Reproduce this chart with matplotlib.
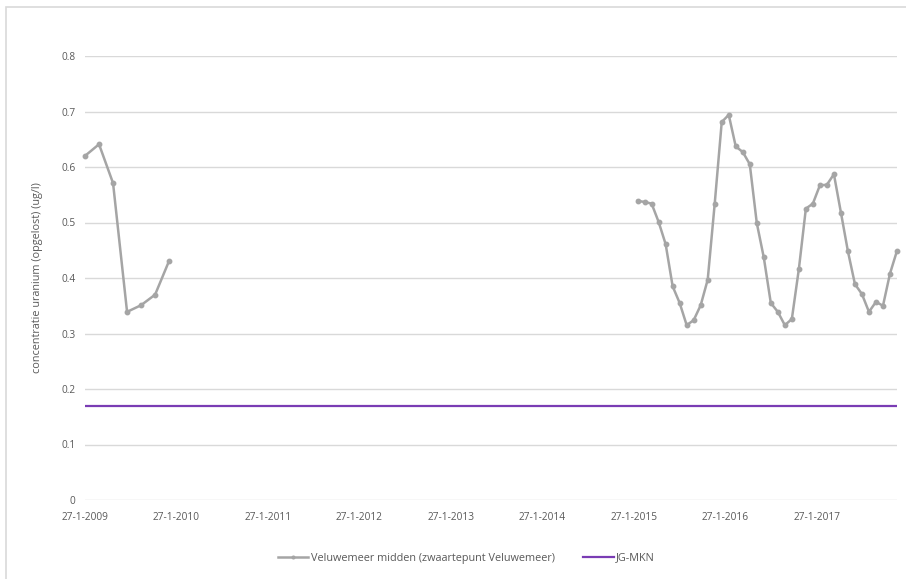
import datetime as dt
import numpy as np
import matplotlib
matplotlib.use("Agg")
import matplotlib.pyplot as plt
from matplotlib.patches import Rectangle

plt.rcParams['font.family'] = ['Open Sans', 'DejaVu Sans']

# Measurements 2009 (every 8 weeks)
dates_2009 = ["2009-01-27", "2009-03-24", "2009-05-19", "2009-07-14",
              "2009-09-08", "2009-11-03", "2009-12-29"]
values_2009 = [0.620, 0.641, 0.571, 0.339, 0.351, 0.370, 0.431]

# Measurements 2015-2017 (every 4 weeks)
dates_2015 = ["2015-02-12", "2015-03-12", "2015-04-09", "2015-05-07", "2015-06-04",
              "2015-07-02", "2015-07-30", "2015-08-27", "2015-09-24", "2015-10-22",
              "2015-11-19", "2015-12-17", "2016-01-14", "2016-02-11", "2016-03-10",
              "2016-04-07", "2016-05-05", "2016-06-02", "2016-06-30", "2016-07-28",
              "2016-08-25", "2016-09-22", "2016-10-20", "2016-11-17", "2016-12-15",
              "2017-01-12", "2017-02-09", "2017-03-09", "2017-04-06", "2017-05-04",
              "2017-06-01", "2017-06-29", "2017-07-27", "2017-08-24", "2017-09-21",
              "2017-10-19", "2017-11-16", "2017-12-14"]
values_2015 = [0.539, 0.537, 0.534, 0.501, 0.461, 0.385, 0.355, 0.315, 0.324, 0.351,
               0.397, 0.534, 0.681, 0.694, 0.637, 0.627, 0.605, 0.499, 0.437, 0.355,
               0.339, 0.315, 0.326, 0.416, 0.525, 0.534, 0.567, 0.568, 0.587, 0.518,
               0.448, 0.389, 0.371, 0.339, 0.357, 0.350, 0.408, 0.449]

norm_value = 0.17  # JG-MKN
series_label = "Veluwemeer midden (zwaartepunt Veluwemeer)"
norm_label = "JG-MKN"
y_label = "concentratie uranium (opgelost) (ug/l)"
tick_years = list(range(2009, 2018))
y_ticks = [0, 0.1, 0.2, 0.3, 0.4, 0.5, 0.6, 0.7, 0.8]

to_dt = lambda s: dt.datetime.strptime(s, "%Y-%m-%d")
x1 = [to_dt(s) for s in dates_2009]
x2 = [to_dt(s) for s in dates_2015]
x_min, x_max = x1[0], x2[-1]

W, H = 906, 579
fig = plt.figure(figsize=(W / 100, H / 100), dpi=100)

# chart area border
fig.patches.append(Rectangle((6 / W, -0.1), 1.2, 1 - 7 / H + 0.1, transform=fig.transFigure,
                             fill=False, edgecolor='#D9D9D9', linewidth=1.2))

ax = fig.add_axes([85 / W, 1 - 500 / H, (897 - 85) / W, (500 - 56) / H])

text_color = '#595959'
grey = '#A5A5A5'
purple = '#7A3CB4'

ax.plot(x1, values_2009, color=grey, linewidth=1.8, marker='o', markersize=3.2,
        label=series_label, zorder=3, clip_on=False)
ax.plot(x2, values_2015, color=grey, linewidth=1.8, marker='o', markersize=3.2, zorder=3,
        clip_on=False)
ax.plot([x_min, x_max], [norm_value, norm_value], color=purple, linewidth=1.6,
        label=norm_label, zorder=2)

ax.set_xlim(x_min, x_max)
ax.set_ylim(0, 0.8)
ax.set_yticks(y_ticks)
ax.set_yticklabels(["0"] + [f"{v:.1f}" for v in y_ticks[1:]])
ax.set_xticks([dt.datetime(y, 1, 27) for y in tick_years])
ax.set_xticklabels([f"27-1-{y}" for y in tick_years])

ax.grid(axis='y', color='#D9D9D9', linewidth=1.0, zorder=0)
ax.set_axisbelow(True)
for s in ax.spines.values():
    s.set_visible(False)
ax.tick_params(axis='both', length=0, colors=text_color, labelsize=7.3)
ax.tick_params(axis='y', pad=7)
ax.tick_params(axis='x', pad=9)

ax.set_ylabel(y_label, fontsize=7.8, color=text_color, labelpad=13)

fig.legend(loc='center', bbox_to_anchor=(0.515, 1 - 558 / H), ncol=2, frameon=False,
           fontsize=7.8, labelcolor=text_color, handlelength=2.8, columnspacing=2.6,
           handletextpad=0.25, markerscale=0.6)

fig.savefig("out.png", dpi=100)
